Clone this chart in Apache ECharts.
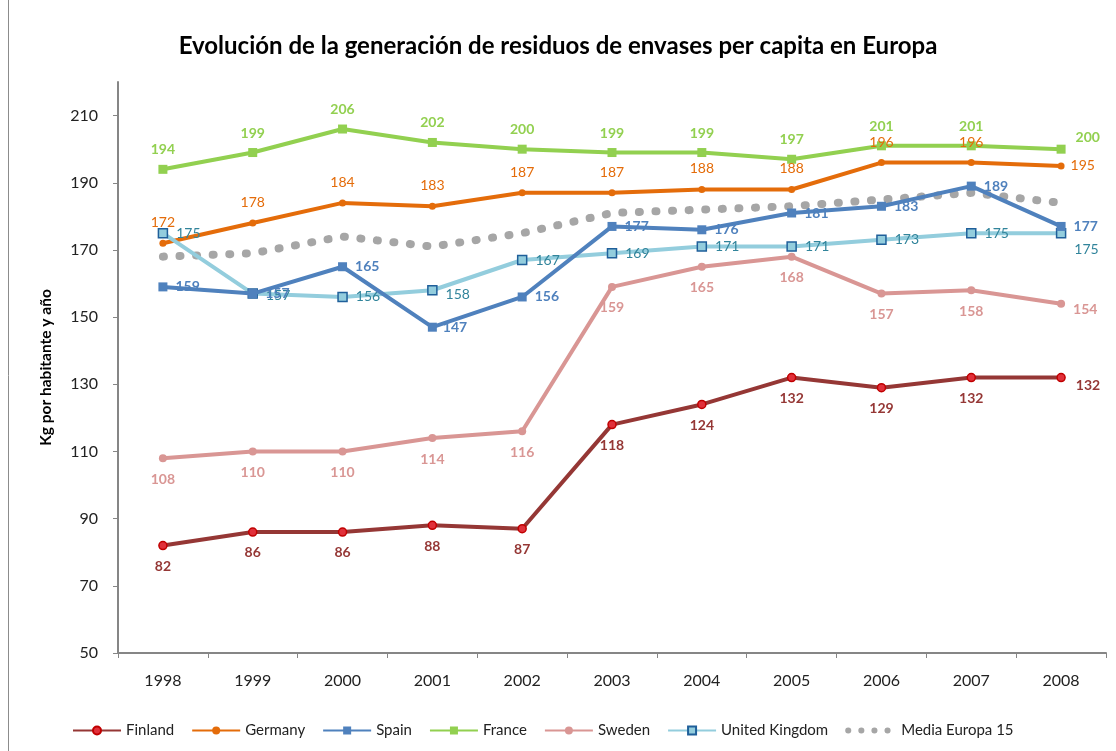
<!DOCTYPE html>
<html>
<head>
<meta charset="utf-8">
<script src="https://cdn.jsdelivr.net/npm/echarts@6/dist/echarts.min.js"></script>
<style>
  html, body { margin: 0; padding: 0; background: #fff; }
  #chart { width: 1116px; height: 751px; }
</style>
</head>
<body>
<div id="chart"></div>
<script>
// datos
const years = ['1998', '1999', '2000', '2001', '2002', '2003', '2004', '2005', '2006', '2007', '2008']
const finland = [82, 86, 86, 88, 87, 118, 124, 132, 129, 132, 132]
const germany = [172, 178, 184, 183, 187, 187, 188, 188, 196, 196, 195]
const spain = [159, 157, 165, 147, 156, 177, 176, 181, 183, 189, 177]
const france = [194, 199, 206, 202, 200, 199, 199, 197, 201, 201, 200]
const sweden = [108, 110, 110, 114, 116, 159, 165, 168, 157, 158, 154]
const unitedKingdom = [175, 157, 156, 158, 167, 169, 171, 171, 173, 175, 175]
const mediaEuropa15 = [168, 169, 174, 171, 175, 181, 182, 183, 185, 187, 184]
const yTicks = [50, 70, 90, 110, 130, 150, 170, 190, 210]

const FONT = 'Lato'
const chart = echarts.init(document.getElementById('chart'))

// per-point label tweaks (index -> label option)
const withLabels = (values, tweaks) =>
    values.map((v, i) => (tweaks[i] ? { value: v, label: tweaks[i] } : v))

const makeSeries = (name, values, cfg) => ({
    name,
    type: 'line',
    data: withLabels(values, cfg.tweaks || {}),
    symbol: cfg.symbol,
    symbolSize: cfg.symbolSize,
    showAllSymbol: true,
    z: cfg.z || 2,
    lineStyle: Object.assign({ color: cfg.color, width: 4 }, cfg.lineStyle || {}),
    itemStyle: Object.assign({ color: cfg.color }, cfg.itemStyle || {}),
    label: {
        show: true,
        position: cfg.pos,
        distance: cfg.dist,
        color: cfg.labelColor || cfg.color,
        fontFamily: FONT,
        fontSize: 14,
        fontWeight: cfg.bold ? 'bold' : 'normal'
    },
    emphasis: { disabled: true }
})

const option = {
    backgroundColor: '#fff',
    animation: false,
    textStyle: { fontFamily: FONT },
    title: {
        text: 'Evolución de la generación de residuos de envases per capita en Europa',
        left: 'center',
        top: 29,
        textStyle: { fontFamily: FONT, fontSize: 24, fontWeight: 'bold', color: '#000' }
    },
    graphic: [
        { type: 'line', shape: { x1: 8.5, y1: 0, x2: 8.5, y2: 751 }, style: { stroke: '#8c8c8c', lineWidth: 1 } }
    ],
    grid: { left: 118, right: 10, top: 82, bottom: 98 },
    legend: {
        left: 72,
        top: 723,
        padding: 0,
        itemWidth: 48,
        itemHeight: 10,
        itemGap: 17,
        textStyle: { fontFamily: FONT, fontSize: 15, color: '#222' },
        data: [
            'Finland', 'Germany', 'Spain', 'France', 'Sweden', 'United Kingdom',
            { name: 'Media Europa 15', lineStyle: { width: 6, type: [0.1, 13], cap: 'round', color: '#a6a6a6' } }
        ]
    },
    xAxis: {
        type: 'category',
        data: years,
        boundaryGap: true,
        axisLine: { lineStyle: { color: '#868686', width: 2 } },
        axisTick: { show: true, interval: 0, length: 5, lineStyle: { color: '#868686' } },
        axisLabel: { color: '#222', fontFamily: FONT, fontSize: 16, margin: 20, interval: 0 }
    },
    yAxis: {
        type: 'value',
        min: 50,
        max: 220,
        name: 'Kg por habitante y año',
        nameLocation: 'middle',
        nameGap: 64,
        nameTextStyle: { fontFamily: FONT, fontSize: 15.5, fontWeight: 'bold', color: '#000' },
        axisLine: { show: true, lineStyle: { color: '#868686', width: 2 } },
        axisTick: { show: true, length: 5, customValues: yTicks, lineStyle: { color: '#868686' } },
        axisLabel: { color: '#222', fontFamily: FONT, fontSize: 16, margin: 20, customValues: yTicks },
        splitLine: { show: false }
    },
    series: [
        makeSeries('Finland', finland, {
            color: '#953735', symbol: 'circle', symbolSize: 8, bold: true, pos: 'bottom', dist: 9,
            itemStyle: { color: '#e0303a', borderColor: '#c00000', borderWidth: 1.5 },
            tweaks: { 10: { position: 'right', distance: 10, offset: [0, 8] } }
        }),
        makeSeries('Germany', germany, {
            color: '#e46c0a', symbol: 'circle', symbolSize: 7, pos: 'top', dist: 10,
            tweaks: { 10: { position: 'right', distance: 6, offset: [0, 0] } }
        }),
        makeSeries('Spain', spain, {
            color: '#4f81bd', symbol: 'rect', symbolSize: 9, bold: true, pos: 'right', dist: 8, z: 4,
            tweaks: { 3: { position: 'right', distance: 6, offset: [0, 0] } }
        }),
        makeSeries('France', france, {
            color: '#92d050', symbol: 'rect', symbolSize: 9, bold: true, pos: 'top', dist: 8,
            tweaks: { 10: { position: 'right', distance: 10, offset: [0, -12] } }
        }),
        makeSeries('Sweden', sweden, {
            color: '#d99694', symbol: 'circle', symbolSize: 8, bold: true, pos: 'bottom', dist: 10,
            tweaks: { 10: { position: 'right', distance: 8, offset: [0, 6] } }
        }),
        makeSeries('United Kingdom', unitedKingdom, {
            color: '#93cddd', symbol: 'rect', symbolSize: 9, pos: 'right', dist: 8, labelColor: '#31849b', z: 3,
            itemStyle: { color: '#93cddd', borderColor: '#1f5f9a', borderWidth: 1.5 },
            tweaks: {
                1: { position: 'right', distance: 8, offset: [0, 2] },
                3: { position: 'right', distance: 8, offset: [0, 4] },
                10: { position: 'right', distance: 8, offset: [0, 16] }
            }
        }),
        makeSeries('Media Europa 15', mediaEuropa15, {
            color: '#a6a6a6', symbol: 'circle', symbolSize: 1, pos: 'top', dist: 13, labelColor: '#7f7f7f', z: 1,
            itemStyle: { opacity: 0 },
            lineStyle: { width: 8, type: [1, 15.6], cap: 'round' },
            tweaks: {
                9: { position: 'bottom', distance: 12 },
                10: { position: 'right', distance: 14, offset: [0, 3] }
            }
        })
    ]
}

chart.setOption(option)
</script>
</body>
</html>
